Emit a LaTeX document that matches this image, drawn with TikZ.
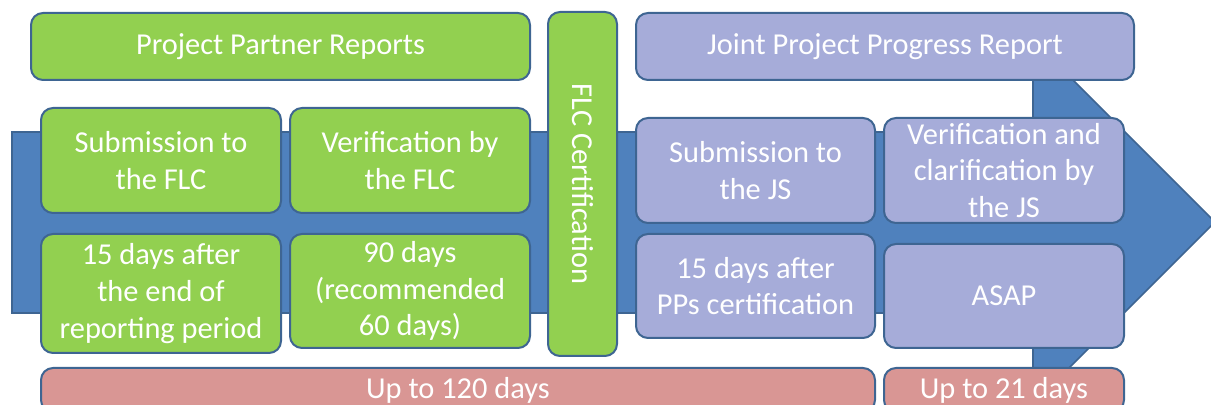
\documentclass[tikz,border=0pt]{standalone}
\usepackage{fontspec}
\setmainfont{Carlito}
\usepackage{tikz}
\definecolor{flowblue}{HTML}{4F81BD}
\definecolor{edgeblue}{HTML}{3E6592}
\definecolor{ppgreen}{HTML}{92D050}
\definecolor{jslilac}{HTML}{A6ACD9}
\definecolor{dayrose}{HTML}{D99694}

\begin{document}
\begin{tikzpicture}[x=0.5pt,y=-0.5pt,
    card/.style={draw=edgeblue, line width=1pt, rounded corners=6pt, text=white,
                 inner sep=0pt, align=center, font=\fontsize{15.2}{18.4}\selectfont},
    ppcard/.style={card, fill=ppgreen},
    jscard/.style={card, fill=jslilac},
    daycard/.style={card, fill=dayrose}]
            \useasboundingbox (0,0) rectangle (1211,405);
            \fill[flowblue] (12,132) -- (1033,132) -- (1033,40) -- (1215,222)
                -- (1033,404) -- (1033,313) -- (12,313) -- cycle;
            \draw[edgeblue, line width=0.8pt] (12,132) -- (1033,132) -- (1033,40) -- (1215,222)
                -- (1033,404) -- (1033,313) -- (12,313) -- cycle;
            \node[ppcard, minimum width=249.5pt, minimum height=33.5pt](ppr)  at (280.5,46.5) {Project Partner Reports};
            \node[ppcard, minimum width=172pt,   minimum height=34.5pt, rotate=-90](flc) at (582.5,184) {FLC Certification};
            \node[jscard, minimum width=249pt,   minimum height=33.5pt](jppr) at (885,46.5)   {Joint Project Progress Report};
            \node[ppcard, minimum width=120pt,   minimum height=52.5pt](subflc) at (161,160.5) {Submission to\\the FLC};
            \node[ppcard, minimum width=120pt,   minimum height=52.5pt](verflc) at (410,160.5) {Verification by\\the FLC};
            \node[ppcard, minimum width=120pt,   minimum height=59.5pt](days15) at (161,293.5) {15 days after\\the end of\\reporting period};
            \node[ppcard, minimum width=120pt,   minimum height=57pt](days90)   at (410,291)   {90 days\\(recommended\\60 days)};
            \node[jscard, minimum width=119.5pt, minimum height=52.5pt](subjs)  at (755.5,170.5) {Submission to\\the JS};
            \node[jscard, minimum width=120pt,   minimum height=52.5pt](verjs)  at (1004,170.5)  {Verification and\\clarification by\\the JS};
            \node[jscard, minimum width=119.5pt, minimum height=52pt](daysjs)   at (755.5,286)   {15 days after\\PPs certification};
            \node[jscard, minimum width=120pt,   minimum height=52pt](asap)     at (1004,296)    {ASAP};
            \node[daycard, minimum width=417pt,  minimum height=22pt](upto120)  at (458,390)     {Up to 120 days};
            \node[daycard, minimum width=120pt,  minimum height=22pt](upto21)   at (1004,390)    {Up to 21 days};
        \end{tikzpicture}
\end{document}
